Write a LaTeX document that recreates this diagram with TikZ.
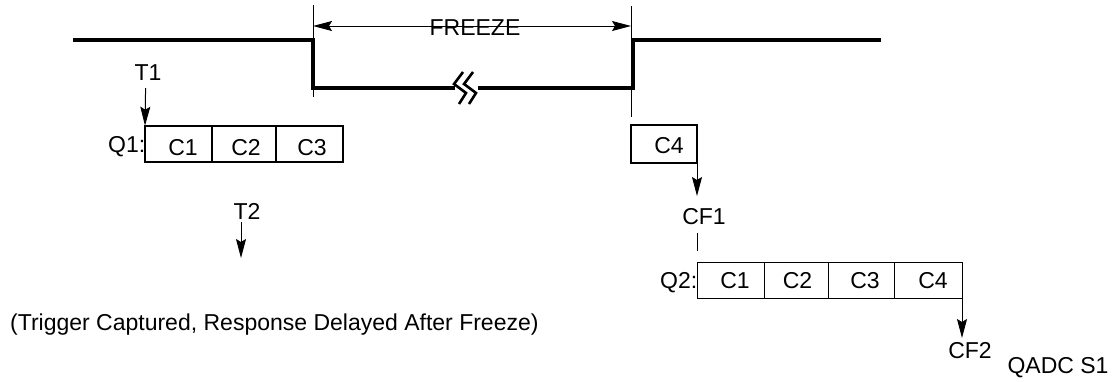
\documentclass[tikz,border=0pt]{standalone}
\usepackage{fontspec}
\setmainfont{Liberation Sans}
\usetikzlibrary{arrows.meta}
\begin{document}
\begin{tikzpicture}[x=1pt,y=-1pt,
  wave/.style={line width=3.2pt, line join=miter},
  thinline/.style={line width=1pt},
  arr/.style={line width=1pt,-{Stealth[length=19pt,width=10pt,inset=3pt]}},
  darr/.style={line width=1pt,{Stealth[length=19pt,width=10pt,inset=3pt]}-{Stealth[length=19pt,width=10pt,inset=3pt]}},
  lbl/.style={inner sep=0pt, anchor=base, font=\fontsize{23}{27}\selectfont},
  lblE/.style={inner sep=0pt, anchor=base east, font=\fontsize{23}{27}\selectfont},
  lblW/.style={inner sep=0pt, anchor=base west, font=\fontsize{23}{27}\selectfont},
  boxA/.style={draw, line width=2.3pt, inner sep=0pt, outer sep=0pt, anchor=north west},
  boxB/.style={draw, line width=1pt, inner sep=0pt, outer sep=0pt, anchor=north west},
  brk/.style={line width=2.6pt, line join=miter},
]
\useasboundingbox (0,0) rectangle (1116,381);

% waveform
\draw[wave] (73,40) -- (313,40) -- (313,88) -- (455,88);
\draw[wave] (478,88) -- (633,88) -- (633,40) -- (881,40);
\draw[brk] (463,72) -- (454,84) -- (466,93) -- (459,104);
\draw[brk] (473,72) -- (464,84) -- (476,93) -- (469,104);

% freeze markers
\coordinate (fl1) at (313,5);
\coordinate (fl2) at (313,97);
\coordinate (fr1) at (631,6);
\coordinate (fr2) at (631,117);
\draw[thinline] (fl1) -- (fl2);
\draw[thinline] (fr1) -- (fr2);
\coordinate (fa) at (313,26);
\coordinate (fb) at (631,26);
\draw[darr] (fa) -- (fb);
\node[lbl] (freeze) at (475,35) {FREEZE};

% Q1 queue
\node[boxA, minimum width=67pt, minimum height=36.3pt] (q1a) at (145,125.7) {};
\node[boxA, minimum width=64pt, minimum height=36.3pt] (q1b) at (212,125.7) {};
\node[boxA, minimum width=67pt, minimum height=36.3pt] (q1c) at (276,125.7) {};
\node[lblE] (q1) at (145.5,152) {Q1:};
\node[lbl] (q1c1) at (183,155) {C1};
\node[lbl] (q1c2) at (246,155) {C2};
\node[lbl] (q1c3) at (312,155) {C3};

% T1
\node[lbl] (t1) at (148,80) {T1};
\coordinate (t1s) at (145.6,88);
\draw[arr] (t1s) -- (q1a.north west);

% T2
\node[lbl] (t2) at (247,219) {T2};
\coordinate (t2s) at (241,222);
\coordinate (t2e) at (241,258);
\draw[arr] (t2s) -- (t2e);

% C4 after freeze
\node[boxA, minimum width=66pt, minimum height=38pt] (c4) at (631,125) {};
\node[lbl] (c4t) at (669,153.3) {C4};
\coordinate (cf1e) at (697,196);
\draw[arr] (c4.south east) -- (cf1e);
\node[lbl] (cf1) at (704,224) {CF1};
\coordinate (l1) at (697,233);
\coordinate (l2) at (697,251);
\draw[thinline] (l1) -- (l2);

% Q2 queue
\node[boxB, minimum width=67pt, minimum height=36pt] (q2a) at (697,262) {};
\node[boxB, minimum width=64pt, minimum height=36pt] (q2b) at (764,262) {};
\node[boxB, minimum width=66pt, minimum height=36pt] (q2c) at (828,262) {};
\node[boxB, minimum width=68pt, minimum height=36pt] (q2d) at (894,262) {};
\node[lblE] (q2) at (697.5,288) {Q2:};
\node[lbl] (q2c1) at (735,288) {C1};
\node[lbl] (q2c2) at (797.5,288) {C2};
\node[lbl] (q2c3) at (865,288) {C3};
\node[lbl] (q2c4) at (933,288) {C4};

% CF2
\coordinate (cf2e) at (962,338);
\draw[arr] (q2d.south east) -- (cf2e);
\node[lbl] (cf2) at (970,358) {CF2};
\node[lbl] (qadc) at (1058,373) {QADC S1};

% caption
\node[lblW] (cap) at (10,330) {(Trigger Captured, Response Delayed After Freeze)};
\end{tikzpicture}
\end{document}
